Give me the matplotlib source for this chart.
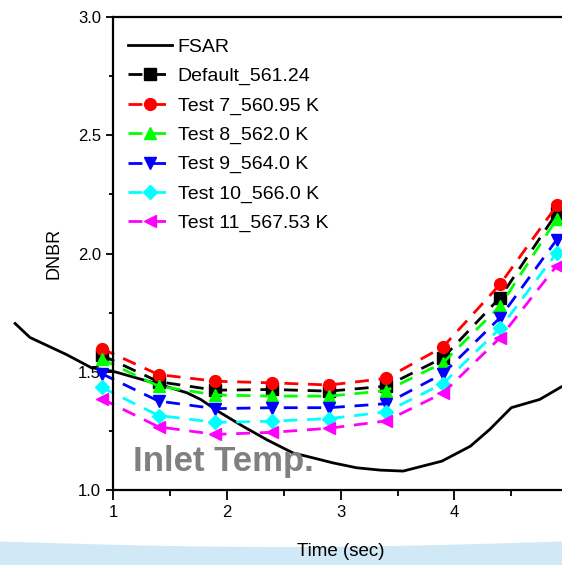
import matplotlib
matplotlib.use("Agg")
import matplotlib.pyplot as plt
import numpy as np
from matplotlib.patches import Polygon
from matplotlib.ticker import MultipleLocator, FixedLocator

# FSAR reference curve (solid black)
fsar_t = [0.14, 0.27, 0.59, 0.81, 1.0, 1.41, 1.65, 1.77, 1.94, 2.14, 2.35,
          2.58, 2.79, 2.93, 3.14, 3.35, 3.55, 3.89, 4.14, 4.31, 4.50, 4.75,
          4.95]
fsar_dnbr = [1.704, 1.645, 1.573, 1.517, 1.502, 1.446, 1.411, 1.383, 1.328,
             1.270, 1.213, 1.157, 1.132, 1.115, 1.094, 1.084, 1.080, 1.122,
             1.185, 1.256, 1.348, 1.383, 1.439]

# sensitivity cases, sampled every 0.5 s
case_t = [0.9, 1.4, 1.9, 2.4, 2.9, 3.4, 3.9, 4.4, 4.9]
default_561 = [1.570, 1.458, 1.422, 1.425, 1.418, 1.439, 1.559, 1.813, 2.172]
test7 = [1.598, 1.488, 1.460, 1.453, 1.444, 1.472, 1.605, 1.869, 2.203]
test8 = [1.553, 1.439, 1.402, 1.397, 1.397, 1.420, 1.538, 1.777, 2.147]
test9 = [1.492, 1.376, 1.344, 1.348, 1.348, 1.365, 1.492, 1.728, 2.059]
test10 = [1.434, 1.315, 1.286, 1.291, 1.302, 1.330, 1.450, 1.683, 2.003]
test11 = [1.386, 1.267, 1.235, 1.244, 1.261, 1.292, 1.410, 1.643, 1.949]

case_labels = ['Default_561.24', 'Test 7_560.95 K', 'Test 8_562.0 K',
               'Test 9_564.0 K', 'Test 10_566.0 K', 'Test 11_567.53 K']
case_colors = ['black', 'red', '#00ff00', 'blue', 'cyan', 'magenta']
case_markers = ['s', 'o', '^', 'v', 'D', '<']

x_ticks = [1, 2, 3, 4]
x_minor = [1.5, 2.5, 3.5, 4.5]


def main():
    plt.rcParams['font.family'] = ['Liberation Sans', 'DejaVu Sans']
    fig = plt.figure(figsize=(5.62, 5.65), dpi=100)

    # light blue band at the bottom of the slide
    xs = np.linspace(0, 1, 60)
    top = 1 - (541.5 + 5.5 * np.sin(np.pi * xs)) / 565
    pts = np.column_stack([xs, top])
    pts = np.vstack([pts, [[1, 0], [0, 0]]])
    fig.add_artist(Polygon(pts, closed=True, transform=fig.transFigure,
                           facecolor='#d1e9f7', edgecolor='none', zorder=0))

    ax = fig.add_axes([113 / 562, 75 / 565, 455.2 / 562, 473 / 565])
    ax.patch.set_alpha(0)

    ax.plot(fsar_t, fsar_dnbr, color='black', lw=2, label='FSAR',
            clip_on=False)
    series = [default_561, test7, test8, test9, test10, test11]
    for vals, lab, col, mk in zip(series, case_labels, case_colors,
                                  case_markers):
        ms = 7 if mk == 'D' else 8.5
        ax.plot(case_t, vals, color=col, lw=2, ls=(0, (5, 3.5)),
                marker=mk, markersize=ms, markeredgecolor=col,
                markerfacecolor=col, label=lab, clip_on=False)

    ax.set_xlim(1, 5)
    ax.set_ylim(1.0, 3.0)
    ax.xaxis.set_major_locator(FixedLocator(x_ticks))
    ax.xaxis.set_minor_locator(FixedLocator(x_minor))
    ax.yaxis.set_major_locator(MultipleLocator(0.5))
    ax.yaxis.set_minor_locator(MultipleLocator(0.25))
    ax.yaxis.set_major_formatter(plt.FormatStrFormatter('%.1f'))
    ax.tick_params(which='major', direction='out', length=7, width=1.3,
                   labelsize=12)
    ax.tick_params(which='minor', direction='out', length=4, width=1.3)
    ax.tick_params(axis='y', which='major', length=5)
    ax.tick_params(axis='y', which='minor', length=3)
    for s in ax.spines.values():
        s.set_linewidth(1.6)

    ax.set_xlabel('Time (sec)', fontsize=13.5, labelpad=17)
    ax.set_ylabel('DNBR', fontsize=13, labelpad=11)

    ax.text(133, 565 - 471, 'Inlet Temp.', transform=None, fontsize=25,
            fontweight='bold', color='#808080')

    ax.legend(loc='upper left', bbox_to_anchor=(0.015, 0.972), frameon=False,
              fontsize=14, numpoints=1, handlelength=2.27,
              handletextpad=0.3, labelspacing=0.6, borderaxespad=0)

    fig.savefig('out.png', dpi=100)


if __name__ == "__main__":
    main()
